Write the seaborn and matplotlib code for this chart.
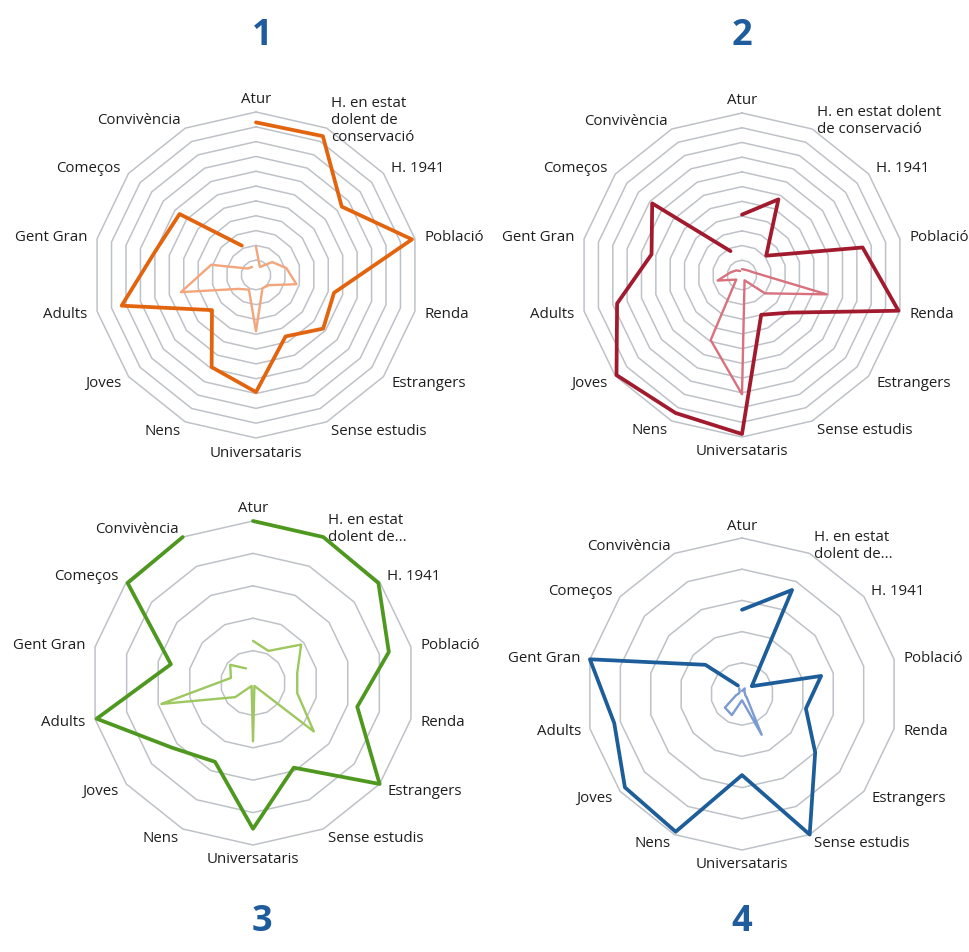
import matplotlib
matplotlib.use("Agg")
import matplotlib.pyplot as plt
import numpy as np
import seaborn as sns

# ── data ──────────────────────────────────────────────────────────────────────
categories = ["Atur", "H. en estat dolent de conservació", "H. 1941", "Població",
              "Renda", "Estrangers", "Sense estudis", "Universataris", "Nens",
              "Joves", "Adults", "Gent Gran", "Começos", "Convivència"]

# the housing label is wrapped / truncated differently in each panel
housing_labels = ["H. en estat\ndolent de\nconservació",
                  "H. en estat dolent\nde conservació",
                  "H. en estat\ndolent de...",
                  "H. en estat\ndolent de..."]

panel_titles = ["1", "2", "3", "4"]

p1_strong = [10.3, 10.4, 7.4, 10.8, 5.4, 5.8, 4.6, 7.9, 6.9, 3.8, 9.3, 7.0, 6.6, 2.2]
p1_light = [1.9, 0.6, 1.4, 2.1, 2.8, 1.1, 1.0, 3.8, 1.1, 1.5, 5.2, 3.1, 0.7, 0.6]

p2_strong = [4.1, 5.7, 2.1, 8.4, 10.9, 4.1, 3.0, 10.8, 10.4, 10.9, 8.7, 6.3, 7.8, 1.8]
p2_light = [0.4, 0.4, 0.5, 0.8, 5.9, 2.0, 0.4, 8.1, 4.9, 0.5, 1.7, 0.8, 0.5, 0.3]

p3_strong = [5.0, 5.0, 4.95, 4.3, 3.3, 5.0, 2.9, 4.5, 2.7, 3.2, 4.95, 2.6, 4.95, 5.0]
p3_light = [1.3, 1.1, 1.9, 1.4, 1.4, 2.4, 0.1, 1.8, 0.1, 0.7, 2.9, 0.7, 0.9, 0.5]

p4_strong = [2.7, 3.7, 0.4, 2.6, 2.1, 3.0, 5.0, 2.6, 4.9, 4.8, 4.2, 5.0, 1.5, 0.3]
p4_light = [0.1, 0.2, 0.1, 0.1, 0.1, 0.2, 1.45, 0.2, 0.75, 0.7, 0.2, 0.1, 0.1, 0.2]

rings_a = [1, 2, 3, 4, 5, 6, 7, 8, 9, 10, 11]
rings_b = [1, 2, 3, 4, 5]

# ── style ─────────────────────────────────────────────────────────────────────
sns.set_theme(style="white")
plt.rcParams["font.family"] = ["Open Sans", "DejaVu Sans"]

W, H = 969, 953
fig = plt.figure(figsize=(W / 100, H / 100), dpi=100)
fig.patch.set_facecolor("white")

panels = [
    # centre x, centre y (px from top), radius px, rings, strong, light, colours
    (256, 276, 163, rings_a, p1_strong, p1_light, "#E2640E", "#F3A57C"),
    (742, 276, 162, rings_a, p2_strong, p2_light, "#A11A2E", "#D8707E"),
    (253, 684, 162, rings_b, p3_strong, p3_light, "#4E981F", "#9DC85F"),
    (742, 695, 156, rings_b, p4_strong, p4_light, "#1D5D99", "#7C9BD2"),
]
title_pos = [(262, 36), (742, 36), (262, 922), (742, 922)]

n = len(categories)
theta = np.linspace(0, 2 * np.pi, n, endpoint=False)
theta_c = np.append(theta, theta[0])

for k, (cx, cy, rad, rings, strong, light, c_dark, c_light) in enumerate(panels):
    ax = fig.add_axes([(cx - rad) / W, (H - cy - rad) / H, 2 * rad / W, 2 * rad / H],
                      projection="polar")
    ax.set_theta_zero_location("N")
    ax.set_theta_direction(-1)
    rmax = rings[-1]
    ax.set_ylim(0, rmax)
    ax.grid(False)
    ax.spines["polar"].set_visible(False)
    ax.set_xticks([])
    ax.set_yticks([])
    ax.set_facecolor("none")

    # polygonal ring grid
    for lvl in rings:
        ax.plot(theta_c, [lvl] * (n + 1), color="#BEC2C8", lw=1.1, zorder=1, clip_on=False)

    sns.lineplot(x=theta_c, y=np.append(light, light[0]), sort=False, color=c_light,
                 lw=1.7, ax=ax, zorder=3, clip_on=False)
    sns.lineplot(x=theta_c, y=np.append(strong, strong[0]), sort=False, color=c_dark,
                 lw=2.7, ax=ax, zorder=4, clip_on=False)

    labels = list(categories)
    labels[1] = housing_labels[k]
    for i, (t, lab) in enumerate(zip(theta, labels)):
        deg = i * 360 / n
        if i == 0:
            ha, va, r = "center", "bottom", rmax * 1.035
        elif i == 7:
            ha, va, r = "center", "top", rmax * 1.04
        elif deg < 180:
            ha, va, r = "left", "center", rmax * 1.06
        else:
            ha, va, r = "right", "center", rmax * 1.06
        ax.text(t, r, lab, ha=ha, va=va, fontsize=10.8, color="#1E1E1E",
                linespacing=1.2)

    tx, ty = title_pos[k]
    fig.text(tx / W, 1 - ty / H, panel_titles[k], ha="center", va="center",
             fontsize=26, fontweight="bold", color="#1F5C9E")

fig.savefig("out.png", dpi=100, facecolor="white")
